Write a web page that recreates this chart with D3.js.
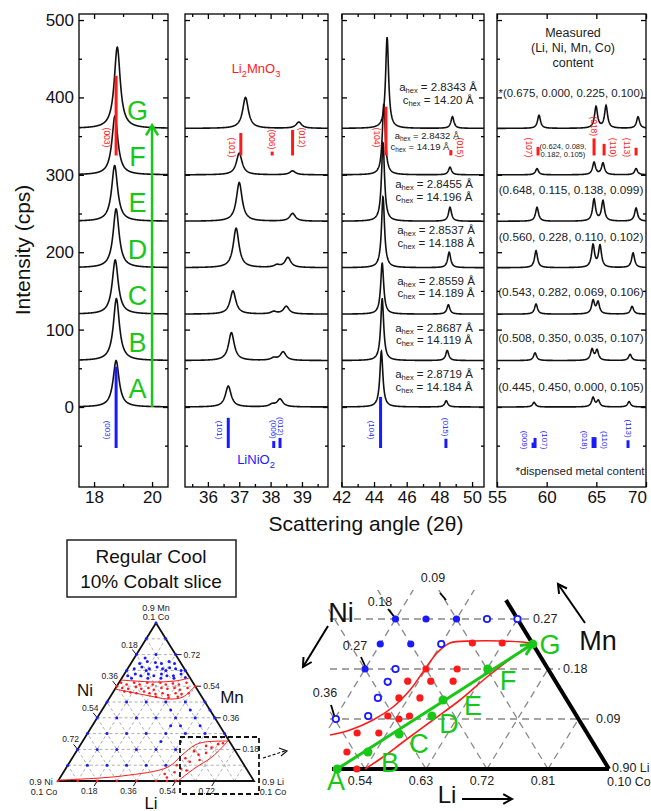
<!DOCTYPE html>
<html><head><meta charset="utf-8">
<script src="https://cdn.jsdelivr.net/npm/d3@7"></script>
<style>body{margin:0;background:#fff}svg text{font-family:"Liberation Sans",Arial,Helvetica,sans-serif}</style>
</head><body><svg width="651" height="811"></svg>
<script>
// ================= DATA =================
const patterns = ["A","B","C","D","E","F","G"];
const offsets = [0,60,120,180,240,300,360];
const panelDomains = [[17.48,20.55],[35.27,39.83],[42.04,50.73],[55,70]];
const majorTicks = [[18,20],[36,37,38,39],[42,44,46,48,50],[55,60,65,70]];
const minorTicks = [[19],[35.5,36.5,37.5,38.5,39.5],[43,45,47,49],[]];
const yTicks = [0,100,200,300,400,500];
const yMinor = [-50,50,150,250,350,450];
const peakFWHM = [0.25,0.22,0.22,0.36];
// peaks: [2theta, height above pattern offset], patterns A..G
const peaks003 = [[[18.76,60]],[[18.77,80]],[[18.73,70]],[[18.76,76]],[[18.71,72]],[[18.72,76]],[[18.80,105]]];
const peaks101 = [
 [[36.65,27],[38.05,3],[38.3,10]],
 [[36.75,36],[38.1,3],[38.4,11]],
 [[36.8,30],[38.1,3],[38.5,10]],
 [[36.9,51],[38.2,3],[38.55,13]],
 [[37.0,50],[38.7,10]],
 [[37.0,28],[38.7,5]],
 [[37.2,40],[38.9,8]]];
const peaks104 = [
 [[44.45,72],[48.42,8]],
 [[44.5,80],[48.48,13]],
 [[44.5,66],[48.55,12]],
 [[44.55,92],[48.6,20]],
 [[44.55,102],[48.65,18]],
 [[44.6,92],[48.65,10]],
 [[44.8,118],[48.8,15]]];
const peaks018 = [
 [[58.73,6],[64.67,12],[65.2,8],[68.3,7]],
 [[58.83,10],[64.57,14],[65.07,13],[68.4,8]],
 [[58.93,13],[64.67,17],[65.17,15],[68.6,10]],
 [[58.93,22],[64.67,29],[65.37,28],[68.7,19]],
 [[59.03,18],[64.77,28],[65.67,26],[69.0,17]],
 [[59.03,8],[64.77,16],[65.67,15],[69.0,8]],
 [[59.23,17],[64.97,28],[65.98,29],[69.2,15]]];
const panelPeaks = [peaks003, peaks101, peaks104, peaks018];
// reference lines: [panel, 2theta, top intensity, hkl]
const li2mno3Lines = [[0,18.76,428,"(003)"],[1,37.05,354,"(101)"],[1,38.05,330,"(006)"],[1,38.7,358,"(012)"],
 [2,44.73,388,"(104)"],[2,48.7,332,"(015)"],[3,59.13,336,"(107)"],[3,64.77,347,"(018)"],[3,65.78,340,"(110)"],[3,69.0,335,"(113)"]];
const li2mno3Base = 325;
const linio2Lines = [[0,18.76,52,"(003)"],[1,36.65,-14,"(101)"],[1,38.1,-44,"(006)"],[1,38.3,-40,"(012)"],
 [2,44.4,13,"(104)"],[2,48.4,-41,"(015)"],[3,58.63,-46,"(009)"],[3,58.83,-40,"(107)"],[3,64.67,-39,"(018)"],[3,64.87,-39,"(110)"],[3,68.19,-43,"(113)"]];
const linio2Base = -53;
const aHex = ["2.8719","2.8687","2.8559","2.8537","2.8455","2.8432","2.8343"];
const cHex = ["14.184","14.119","14.189","14.188","14.196","14.19","14.20"];
const measured = ["(0.445, 0.450, 0.000, 0.105)","(0.508, 0.350, 0.035, 0.107)","(0.543, 0.282, 0.069, 0.106)",
 "(0.560, 0.228, 0.110, 0.102)","(0.648, 0.115, 0.138, 0.099)",["(0.624, 0.089,","0.182, 0.105)"],"*(0.675, 0.000, 0.225, 0.100)"];
const measuredHeader = ["Measured","(Li, Ni, Mn, Co)","content"];
const arrowTop = 364;

// Small ternary (10% Co slice): [Li, Mn], Ni = 0.9 - Li - Mn
const smallGridSteps = [0.09,0.18,0.27,0.36,0.45,0.54,0.63,0.72,0.81];
const smallTickVals = [0.18,0.36,0.54,0.72];
const smallBlue = [
 [0,0.09],[0.09,0.09],[0.18,0.09],[0.27,0.09],[0.36,0.09],[0.45,0.09],
 [0,0.18],[0.09,0.18],[0.18,0.18],[0.27,0.18],[0.36,0.18],[0.45,0.18],
 [0,0.27],[0.09,0.27],[0.18,0.27],[0.27,0.27],[0.36,0.27],[0.45,0.27],[0.54,0.27],[0.63,0.27],
 [0,0.36],[0.09,0.36],[0.18,0.36],[0.27,0.36],[0.36,0.36],[0.45,0.36],[0.54,0.36],
 [0,0.45],[0.09,0.45],[0.18,0.45],[0.27,0.45],[0.36,0.45],[0.45,0.45],
 [0.405,0.315],[0.495,0.315],[0.315,0.405],[0.405,0.405],[0.495,0.405],[0.36,0.315],[0.45,0.225],[0.36,0.225],
 [0,0.63],[0.09,0.63],[0.18,0.63],[0.27,0.63],
 [0,0.72],[0.09,0.72],[0.18,0.72],[0,0.81],[0.09,0.81],[0,0.9],
 [0.02,0.60],[0.05,0.61],[0.08,0.60],[0.11,0.61],[0.14,0.60],[0.17,0.61],[0.20,0.60],[0.23,0.60],[0.26,0.61],[0.29,0.59],
 [0.03,0.64],[0.06,0.65],[0.10,0.64],[0.13,0.65],[0.16,0.64],[0.19,0.645],[0.22,0.64],[0.25,0.63],
 [0.04,0.67],[0.07,0.68],[0.11,0.675],[0.14,0.67],[0.17,0.68],[0.20,0.67],
 [0.05,0.70],[0.12,0.585],[0.18,0.585],[0.24,0.585],[0.045,0.585]];
const smallRed = [
 [0.01,0.56],[0.04,0.55],[0.07,0.56],[0.10,0.55],[0.13,0.56],[0.16,0.55],[0.19,0.56],[0.22,0.55],[0.25,0.555],[0.28,0.55],[0.31,0.56],
 [0.03,0.53],[0.06,0.525],[0.09,0.535],[0.12,0.525],[0.15,0.53],[0.18,0.52],[0.21,0.53],[0.24,0.525],[0.27,0.53],[0.30,0.52],[0.33,0.53],
 [0.05,0.51],[0.08,0.505],[0.11,0.50],[0.14,0.51],[0.17,0.50],[0.20,0.495],[0.23,0.50],[0.26,0.49],[0.29,0.50],[0.32,0.495],
 [0.21,0.48],[0.27,0.475],[0.31,0.48],[0.35,0.50],[0,0.54],[0.36,0.54],
 [0,0],[0.09,0],[0.18,0],[0.27,0],[0.36,0],[0.45,0],[0.50,0],[0.54,0],
 [0.50,0.09],[0.52,0.13],[0.55,0.11],[0.54,0.17],[0.57,0.15],[0.58,0.20],[0.61,0.19],[0.63,0.21],
 [0.51,0.05],[0.53,0.07],[0.47,0.04],[0.49,0.02],[0.56,0.06],[0.59,0.12],[0.60,0.16],[0.65,0.215]];
const smallBandTop = [[0,0.5753],[0.0688,0.5696],[0.1634,0.5639],[0.2524,0.5696],[0.313,0.5867]];
const smallBandBottom = [[0,0.524],[0.1546,0.4899],[0.2716,0.4671],[0.3348,0.4785],[0.3585,0.5411]];
const smallRegionUpper = [[0,0.005],[0.2797,0.0285],[0.4652,0.0797],[0.4954,0.1481],[0.5266,0.2051],[0.5639,0.2222],[0.667,0.2278]];
const smallRegionLower = [[0.551,0],[0.5921,0.074],[0.6387,0.1367],[0.667,0.2278]];

// Large (zoomed) ternary: [Li, Mn]
const bigLiTicks = ["0.54","0.63","0.72","0.81"];
const bigLiVals = [0.54,0.63,0.72,0.81];
const bigMnVals = [0.09,0.18,0.27];
const bigNiLabels = ["0.09","0.18","0.27","0.36"];
const bigGridLi = [0.45,0.54,0.63,0.72,0.81];
const bigGridNi = [0.09,0.18,0.27,0.36,0.45];
const bigGreen = [[0.499,0],[0.529,0.0306],[0.559,0.063],[0.591,0.0954],[0.593,0.1242],[0.631,0.18],[0.675,0.225]];
const bigBlueFilled = [[0.45,0.27],[0.495,0.27],[0.54,0.27],[0.45,0.225],[0.495,0.225],[0.45,0.18]];
const bigBlueOpen = [[0.585,0.27],[0.63,0.27],[0.54,0.225],[0.495,0.18],[0.495,0.157],[0.495,0.128],[0.497,0.0954],[0.452,0.09]];
const bigRed = [[0.585,0.2268],[0.629,0.2268],[0.540,0.18],[0.586,0.18],[0.524,0.158],[0.558,0.158],[0.591,0.158],
 [0.526,0.128],[0.557,0.128],[0.526,0.0954],[0.545,0.09],[0.558,0.0954],[0.496,0.0648],[0.528,0.0648],[0.498,0.0306],[0.528,0]];
const bigRedUpper = [[0.4578,0.0612],[0.4828,0.0702],[0.5077,0.0882],[0.5255,0.1116],[0.5353,0.1422],[0.5383,0.1746],
 [0.5418,0.2088],[0.552,0.2268],[0.5841,0.2304],[0.624,0.2304],[0.670,0.2268],[0.675,0.225]];
const bigRedLower = [[0.540,0],[0.5558,0.0216],[0.5718,0.0486],[0.5962,0.0882],[0.6181,0.1242],[0.6372,0.1656],[0.6576,0.2016],[0.6718,0.2232],[0.675,0.225]];

// ================= DRAW =================
const svg = d3.select("svg");
const GREEN="#17c817", RED="#ff1a1a", BLUE="#1a1aff", GREY="#9a9a9a";
const defs = svg.append("defs");

const y = d3.scaleLinear().domain([-103.4,507.8]).range([487,14]);
const PX = [[79,168],[185,328],[342,484],[497,646]];
const xs = panelDomains.map((d,i)=>d3.scaleLinear().domain(d).range(PX[i]));

function profile(t, list, w){ let s=0; for(const [p,h] of list){ const u=(t-p)/(w/2); s+=h/(1+u*u);} return s; }

function styleAxis(sel, fs){
  sel.select(".domain").remove();
  sel.selectAll(".tick line").attr("stroke","#000").attr("stroke-width",1.3);
  sel.selectAll("text").attr("font-size",fs).attr("fill","#111").attr("font-family",'"Liberation Sans",Arial,sans-serif');
}

panelDomains.forEach((dom,i)=>{
  const x = xs[i];
  const g = svg.append("g");
  defs.append("clipPath").attr("id","cp"+i).append("rect")
    .attr("x",PX[i][0]).attr("y",14).attr("width",PX[i][1]-PX[i][0]).attr("height",473);
  const ab = g.append("g").attr("transform","translate(0,487)")
    .call(d3.axisBottom(x).tickValues(majorTicks[i]).tickSize(-5).tickPadding(4).tickFormat(d3.format("d")));
  styleAxis(ab,17);
  if(i===3) ab.selectAll(".tick text").filter(d=>d===70).attr("dx",-9);
  const abm = g.append("g").attr("transform","translate(0,487)").call(d3.axisBottom(x).tickValues(minorTicks[i]).tickSize(-3).tickFormat(""));
  styleAxis(abm,0);
  const at = g.append("g").attr("transform","translate(0,14)").call(d3.axisTop(x).tickValues(majorTicks[i]).tickSize(-5).tickFormat(""));
  styleAxis(at,0);
  const atm = g.append("g").attr("transform","translate(0,14)").call(d3.axisTop(x).tickValues(minorTicks[i]).tickSize(-3).tickFormat(""));
  styleAxis(atm,0);
  const al = g.append("g").attr("transform",`translate(${PX[i][0]},0)`)
    .call(d3.axisLeft(y).tickValues(yTicks).tickSize(-5).tickPadding(5).tickFormat(i===0?d3.format("d"):""));
  styleAxis(al,17);
  const alm = g.append("g").attr("transform",`translate(${PX[i][0]},0)`).call(d3.axisLeft(y).tickValues(yMinor).tickSize(-3).tickFormat(""));
  styleAxis(alm,0);
  const ar = g.append("g").attr("transform",`translate(${PX[i][1]},0)`).call(d3.axisRight(y).tickValues(yTicks).tickSize(-5).tickFormat(""));
  styleAxis(ar,0);
  const arm = g.append("g").attr("transform",`translate(${PX[i][1]},0)`).call(d3.axisRight(y).tickValues(yMinor).tickSize(-3).tickFormat(""));
  styleAxis(arm,0);
  g.append("rect").attr("x",PX[i][0]).attr("y",14).attr("width",PX[i][1]-PX[i][0]).attr("height",473)
    .attr("fill","none").attr("stroke","#000").attr("stroke-width",1.3);
  const xsN = 500, d0=dom[0], d1=dom[1];
  const pts = d3.range(xsN+1).map(k=>d0+(d1-d0)*k/xsN);
  const gl = g.append("g").attr("clip-path",`url(#cp${i})`);
  panelPeaks[i].forEach((pk,j)=>{
    const line = d3.line().x(t=>x(t)).y(t=>y(offsets[j]+profile(t,pk,peakFWHM[i])));
    gl.append("path").attr("d",line(pts)).attr("fill","none").attr("stroke","#111").attr("stroke-width",1.6);
  });
});

function refLines(list, base, color, place, fs){
  list.forEach((r,k)=>{
    const [p,t,top,lab] = r; const x = xs[p](t);
    const y0 = y(base), y1 = y(top);
    svg.append("line").attr("x1",x).attr("x2",x).attr("y1",y0).attr("y2",y1).attr("stroke",color).attr("stroke-width",3);
    const len = y0-y1;
    let cx, cy;
    const tw = fs*2.4;
    if(place[k]==="a"){ cx = x; cy = y1 - 2 - tw/2; }
    else { cx = x + (place[k]==="l" ? -9 : 9); cy = len>25 ? y0-18 : y0-8; }
    svg.append("text").attr("transform",`translate(${cx},${cy}) rotate(90)`).attr("text-anchor","middle")
      .attr("dominant-baseline","central").attr("font-size",fs).attr("fill",color).text(lab);
  });
}
refLines(li2mno3Lines, li2mno3Base, RED, ["l","l","a","r","l","r","l","a","r","l"], 8.5);
refLines(linio2Lines, linio2Base, BLUE, ["l","l","a","a","l","a","l","r","l","r","a"], 8);

function chem(x, yy, parts, color, fs){
  const t = svg.append("text").attr("x",x).attr("y",yy).attr("text-anchor","middle").attr("font-size",fs).attr("fill",color);
  parts.forEach(([s,sub])=>{ if(sub){ t.append("tspan").attr("dy",4).attr("font-size",fs*0.72).text(s);} else { t.append("tspan").attr("dy",t.node().childNodes.length? -4:0).text(s);} });
}
chem(256,77,[["Li"],["2",1],["MnO"],["3",1]],RED,13);
chem(256,468,[["LiNiO"],["2",1]],BLUE,13);

const ax = xs[0](20.0);
svg.append("line").attr("x1",ax).attr("x2",ax).attr("y1",y(0)).attr("y2",y(arrowTop)).attr("stroke",GREEN).attr("stroke-width",2.5);
svg.append("polyline").attr("points",`${ax-6},${y(arrowTop)+10} ${ax},${y(arrowTop)} ${ax+6},${y(arrowTop)+10}`)
  .attr("fill","none").attr("stroke",GREEN).attr("stroke-width",2.5);
patterns.forEach((p,j)=>{
  svg.append("text").attr("x",xs[0](19.5)).attr("y",y(offsets[j]+23)).attr("dominant-baseline","central")
    .attr("text-anchor","middle").attr("font-size",27).attr("fill",GREEN).text(p);
});

const latY = [[374,387],[328,340],[281,293],[230,243],[184,197],[135,146],[87,100]];
const latX = [434,434,436,436,434,427,438];
patterns.forEach((p,j)=>{
  const fs = j===5 ? 9.5 : 11.5, sub = j===5? 6.5: 7.5;
  [["a",aHex[j]],["c",cHex[j]]].forEach(([v,val],q)=>{
    const t = svg.append("text").attr("x",latX[j]-(j===5&&q===1?7:0)).attr("y",latY[j][q]).attr("dominant-baseline","central")
      .attr("text-anchor","middle").attr("font-size",fs).attr("fill","#222");
    t.append("tspan").text(v);
    t.append("tspan").attr("dy",3).attr("font-size",sub).text("hex");
    t.append("tspan").attr("dy",-3).text(` = ${val} Å`);
  });
});

measuredHeader.forEach((s,k)=>svg.append("text").attr("x",573).attr("y",33+15*k).attr("dominant-baseline","central")
  .attr("text-anchor","middle").attr("font-size",12.5).attr("fill","#222").text(s));
const measY = [387,338,292,237,190,146,93];
measured.forEach((m,j)=>{
  if(Array.isArray(m)){
    m.forEach((s,k)=>svg.append("text").attr("x",563).attr("y",measY[j]+k*8).attr("dominant-baseline","central")
      .attr("text-anchor","middle").attr("font-size",7.6).attr("fill","#222").text(s));
  } else {
    svg.append("text").attr("x",571).attr("y",measY[j]).attr("dominant-baseline","central").attr("text-anchor","middle")
      .attr("font-size",j===6?11.4:11.8).attr("fill","#222").text(m);
  }
});
svg.append("text").attr("x",580).attr("y",471).attr("dominant-baseline","central").attr("text-anchor","middle")
  .attr("font-size",11.5).attr("fill","#222").text("*dispensed metal content");

svg.append("text").attr("transform","translate(22,250) rotate(-90)").attr("text-anchor","middle").attr("dominant-baseline","central")
  .attr("font-size",21).attr("fill","#111").text("Intensity (cps)");
svg.append("text").attr("x",366).attr("y",523).attr("text-anchor","middle").attr("dominant-baseline","central")
  .attr("font-size",21).attr("fill","#111").text("Scattering angle (2θ)");

// ================= SMALL TERNARY =================
const sx = d3.scaleLinear().domain([0,0.9]).range([58,254]);
const sy = d3.scaleLinear().domain([0,0.9]).range([781,623]);
const sP = ([li,mn])=>[sx(li+mn/2), sy(mn)];
svg.append("rect").attr("x",67).attr("y",540).attr("width",169).attr("height",57).attr("fill","none").attr("stroke","#222").attr("stroke-width",1.5);
svg.append("text").attr("x",151).attr("y",556).attr("text-anchor","middle").attr("dominant-baseline","central").attr("font-size",19).attr("fill","#111").text("Regular Cool");
svg.append("text").attr("x",151).attr("y",581).attr("text-anchor","middle").attr("dominant-baseline","central").attr("font-size",19).attr("fill","#111").text("10% Cobalt slice");
const gs = svg.append("g");
smallGridSteps.forEach(t=>{
  [[[0,t],[0.9-t,t]],[[t,0],[t,0.9-t]],[[0.9-t,0],[0,0.9-t]]].forEach(seg=>{
    gs.append("line").attr("x1",sP(seg[0])[0]).attr("y1",sP(seg[0])[1]).attr("x2",sP(seg[1])[0]).attr("y2",sP(seg[1])[1])
      .attr("stroke",GREY).attr("stroke-width",0.8).attr("stroke-dasharray","3,2.5");
  });
});
gs.append("path").attr("d",d3.line()([sP([0,0]),sP([0.9,0]),sP([0,0.9])])+"Z").attr("fill","none").attr("stroke","#111").attr("stroke-width",1.8);
const tfs = 8.5;
smallTickVals.forEach(v=>{
  const L = sP([0,0.9-v]);
  gs.append("line").attr("x1",L[0]-4).attr("y1",L[1]-5).attr("x2",L[0]).attr("y2",L[1]).attr("stroke","#111");
  gs.append("text").attr("x",L[0]-7).attr("y",L[1]-10).attr("text-anchor","middle").attr("dominant-baseline","central").attr("font-size",tfs).attr("fill","#222").text(v.toFixed(2));
  const R = sP([0.9-v,v]);
  gs.append("line").attr("x1",R[0]+1).attr("y1",R[1]).attr("x2",R[0]+6).attr("y2",R[1]).attr("stroke","#111");
  gs.append("text").attr("x",R[0]+8).attr("y",R[1]).attr("text-anchor","start").attr("dominant-baseline","central").attr("font-size",tfs).attr("fill","#222").text(v.toFixed(2));
  const B = sP([v,0]);
  gs.append("line").attr("x1",B[0]-3).attr("y1",B[1]+5).attr("x2",B[0]).attr("y2",B[1]).attr("stroke","#111");
  gs.append("text").attr("x",B[0]-8).attr("y",B[1]+10).attr("text-anchor","middle").attr("dominant-baseline","central").attr("font-size",tfs).attr("fill","#222").text(v.toFixed(2));
});
[["0.9 Mn",156,608],["0.1 Co",156,617]].forEach(([s,xx,yy])=>gs.append("text").attr("x",xx).attr("y",yy).attr("text-anchor","middle").attr("dominant-baseline","central").attr("font-size",9).attr("fill","#222").text(s));
[["0.9 Ni",41,782],["0.1 Co",44,792]].forEach(([s,xx,yy])=>gs.append("text").attr("x",xx).attr("y",yy).attr("text-anchor","middle").attr("dominant-baseline","central").attr("font-size",9).attr("fill","#222").text(s));
[["0.9 Li",273,782],["0.1 Co",273,792]].forEach(([s,xx,yy])=>gs.append("text").attr("x",xx).attr("y",yy).attr("text-anchor","middle").attr("dominant-baseline","central").attr("font-size",9).attr("fill","#222").text(s));
[["Ni",85,690],["Mn",232,697],["Li",151,803]].forEach(([s,xx,yy])=>gs.append("text").attr("x",xx).attr("y",yy).attr("text-anchor","middle").attr("dominant-baseline","central").attr("font-size",17).attr("fill","#111").text(s));
smallBlue.forEach(p=>gs.append("circle").attr("cx",sP(p)[0]).attr("cy",sP(p)[1]).attr("r",1.5).attr("fill",BLUE));
const sline = d3.line().x(p=>sP(p)[0]).y(p=>sP(p)[1]).curve(d3.curveCatmullRom);
[smallBandTop,smallBandBottom,smallRegionUpper,smallRegionLower].forEach(c=>gs.append("path").attr("d",sline(c)).attr("fill","none").attr("stroke",RED).attr("stroke-width",1));
smallRed.forEach(p=>gs.append("circle").attr("cx",sP(p)[0]).attr("cy",sP(p)[1]).attr("r",1.3).attr("fill",RED));
gs.append("rect").attr("x",180).attr("y",737).attr("width",79).attr("height",57).attr("fill","none").attr("stroke","#111").attr("stroke-width",1.8).attr("stroke-dasharray","5,3");
gs.append("line").attr("x1",263).attr("y1",758).attr("x2",285).attr("y2",751).attr("stroke","#111").attr("stroke-width",1.2).attr("stroke-dasharray","3,2");
gs.append("polyline").attr("points","279,748 287,751 281,756").attr("fill","none").attr("stroke","#111").attr("stroke-width",1.2);

// ================= BIG TERNARY =================
const bx = d3.scaleLinear().domain([0,0.9]).range([-1,609]);
const by = d3.scaleLinear().domain([0,0.27]).range([769,619]);
const bP = ([li,mn])=>[bx(li+mn/2), by(mn)];
const gb = svg.append("g");
defs.append("clipPath").attr("id","cpb").append("rect").attr("x",328).attr("y",590).attr("width",290).attr("height",179);
const gg = gb.append("g").attr("clip-path","url(#cpb)");
const dash = sel=>sel.attr("stroke","#888").attr("stroke-width",1.3).attr("stroke-dasharray","7,5");
bigGridLi.forEach(t=>{ const a=bP([t,0]), b=bP([t,0.9-t]); dash(gg.append("line").attr("x1",a[0]).attr("y1",a[1]).attr("x2",b[0]).attr("y2",b[1])); });
bigGridNi.forEach(t=>{ const a=bP([0.9-t,0]), b=bP([0,0.9-t]); dash(gg.append("line").attr("x1",a[0]).attr("y1",a[1]).attr("x2",b[0]).attr("y2",b[1])); });
const mnEnds = [593,560,530];
bigMnVals.forEach((m,k)=>{ dash(gb.append("line").attr("x1",330).attr("y1",by(m)).attr("x2",mnEnds[k]).attr("y2",by(m)));
  gb.append("text").attr("x",mnEnds[k]+3).attr("y",by(m)).attr("dominant-baseline","central").attr("font-size",12.5).attr("fill","#222").text(m.toFixed(2)); });
gb.append("line").attr("x1",332).attr("y1",by(0)).attr("x2",bP([0.9,0])[0]).attr("y2",by(0)).attr("stroke","#000").attr("stroke-width",4);
gb.append("line").attr("x1",bP([0.9,0])[0]).attr("y1",by(0)).attr("x2",bP([0.596,0.304])[0]).attr("y2",by(0.304)).attr("stroke","#000").attr("stroke-width",4);
bigLiVals.forEach((v,k)=>gb.append("text").attr("x",bP([v,0])[0]-5).attr("y",781).attr("text-anchor","middle").attr("dominant-baseline","central").attr("font-size",12.5).attr("fill","#222").text(bigLiTicks[k]));
gb.append("text").attr("x",612).attr("y",768).attr("dominant-baseline","central").attr("font-size",12.5).attr("fill","#222").text("0.90 Li");
gb.append("text").attr("x",607).attr("y",782).attr("dominant-baseline","central").attr("font-size",12.5).attr("fill","#222").text("0.10 Co");
const niPos = [[433,578,440,593,446,600],[380,602,388,609,396,619],[355,646,361,657,366,668],[325,693,331,705,335,718]];
bigNiLabels.forEach((s,k)=>{ const q=niPos[k];
  gb.append("text").attr("x",q[0]).attr("y",q[1]).attr("text-anchor","middle").attr("dominant-baseline","central").attr("font-size",12.5).attr("fill","#222").text(s);
  gb.append("line").attr("x1",q[2]).attr("y1",q[3]).attr("x2",q[4]).attr("y2",q[5]).attr("stroke","#000").attr("stroke-width",1.8); });
const bline = d3.line().x(p=>bP(p)[0]).y(p=>bP(p)[1]).curve(d3.curveCatmullRom);
[bigRedUpper,bigRedLower].forEach(c=>gb.append("path").attr("d",bline(c)).attr("fill","none").attr("stroke",RED).attr("stroke-width",1.6));
bigBlueFilled.forEach(p=>gb.append("circle").attr("cx",bP(p)[0]).attr("cy",bP(p)[1]).attr("r",3.6).attr("fill",BLUE));
bigBlueOpen.forEach(p=>gb.append("circle").attr("cx",bP(p)[0]).attr("cy",bP(p)[1]).attr("r",3.2).attr("fill","#fff").attr("stroke",BLUE).attr("stroke-width",1.8));
bigRed.forEach(p=>gb.append("circle").attr("cx",bP(p)[0]).attr("cy",bP(p)[1]).attr("r",3.6).attr("fill",RED));
const A = bP(bigGreen[0]), G = bP(bigGreen[6]);
gb.append("line").attr("x1",A[0]).attr("y1",A[1]).attr("x2",G[0]).attr("y2",G[1]).attr("stroke",GREEN).attr("stroke-width",3);
const ang = Math.atan2(G[1]-A[1],G[0]-A[0]);
const ah = (d,o)=>[G[0]-d*Math.cos(ang+o), G[1]-d*Math.sin(ang+o)];
gb.append("polyline").attr("points",[ah(13,0.45),G,ah(13,-0.45)].map(p=>p.join(",")).join(" ")).attr("fill","none").attr("stroke",GREEN).attr("stroke-width",3);
bigGreen.forEach(p=>gb.append("circle").attr("cx",bP(p)[0]).attr("cy",bP(p)[1]).attr("r",4.5).attr("fill",GREEN));
const letterPos = [[336,781],[390,763],[419,744],[449,724],[473,706],[508,681],[550,645]];
patterns.forEach((p,k)=>gb.append("text").attr("x",letterPos[k][0]).attr("y",letterPos[k][1]).attr("text-anchor","middle").attr("dominant-baseline","central").attr("font-size",27).attr("fill",GREEN).text(p));
const arrow = (x1,y1,x2,y2)=>{ gb.append("line").attr("x1",x1).attr("y1",y1).attr("x2",x2).attr("y2",y2).attr("stroke","#000").attr("stroke-width",2);
  const a=Math.atan2(y2-y1,x2-x1); const h=(o)=>[x2-10*Math.cos(a+o), y2-10*Math.sin(a+o)];
  gb.append("polyline").attr("points",[h(0.5),[x2,y2],h(-0.5)].map(p=>p.join(",")).join(" ")).attr("fill","none").attr("stroke","#000").attr("stroke-width",2); };
gb.append("text").attr("x",341).attr("y",613).attr("text-anchor","middle").attr("dominant-baseline","central").attr("font-size",27).attr("fill","#111").text("Ni");
arrow(328,626,303,667);
gb.append("text").attr("x",598).attr("y",641).attr("text-anchor","middle").attr("dominant-baseline","central").attr("font-size",27).attr("fill","#111").text("Mn");
arrow(585,623,558,584);
gb.append("text").attr("x",447).attr("y",794).attr("text-anchor","middle").attr("dominant-baseline","central").attr("font-size",24).attr("fill","#111").text("Li");
arrow(462,799,512,799);
</script></body></html>
